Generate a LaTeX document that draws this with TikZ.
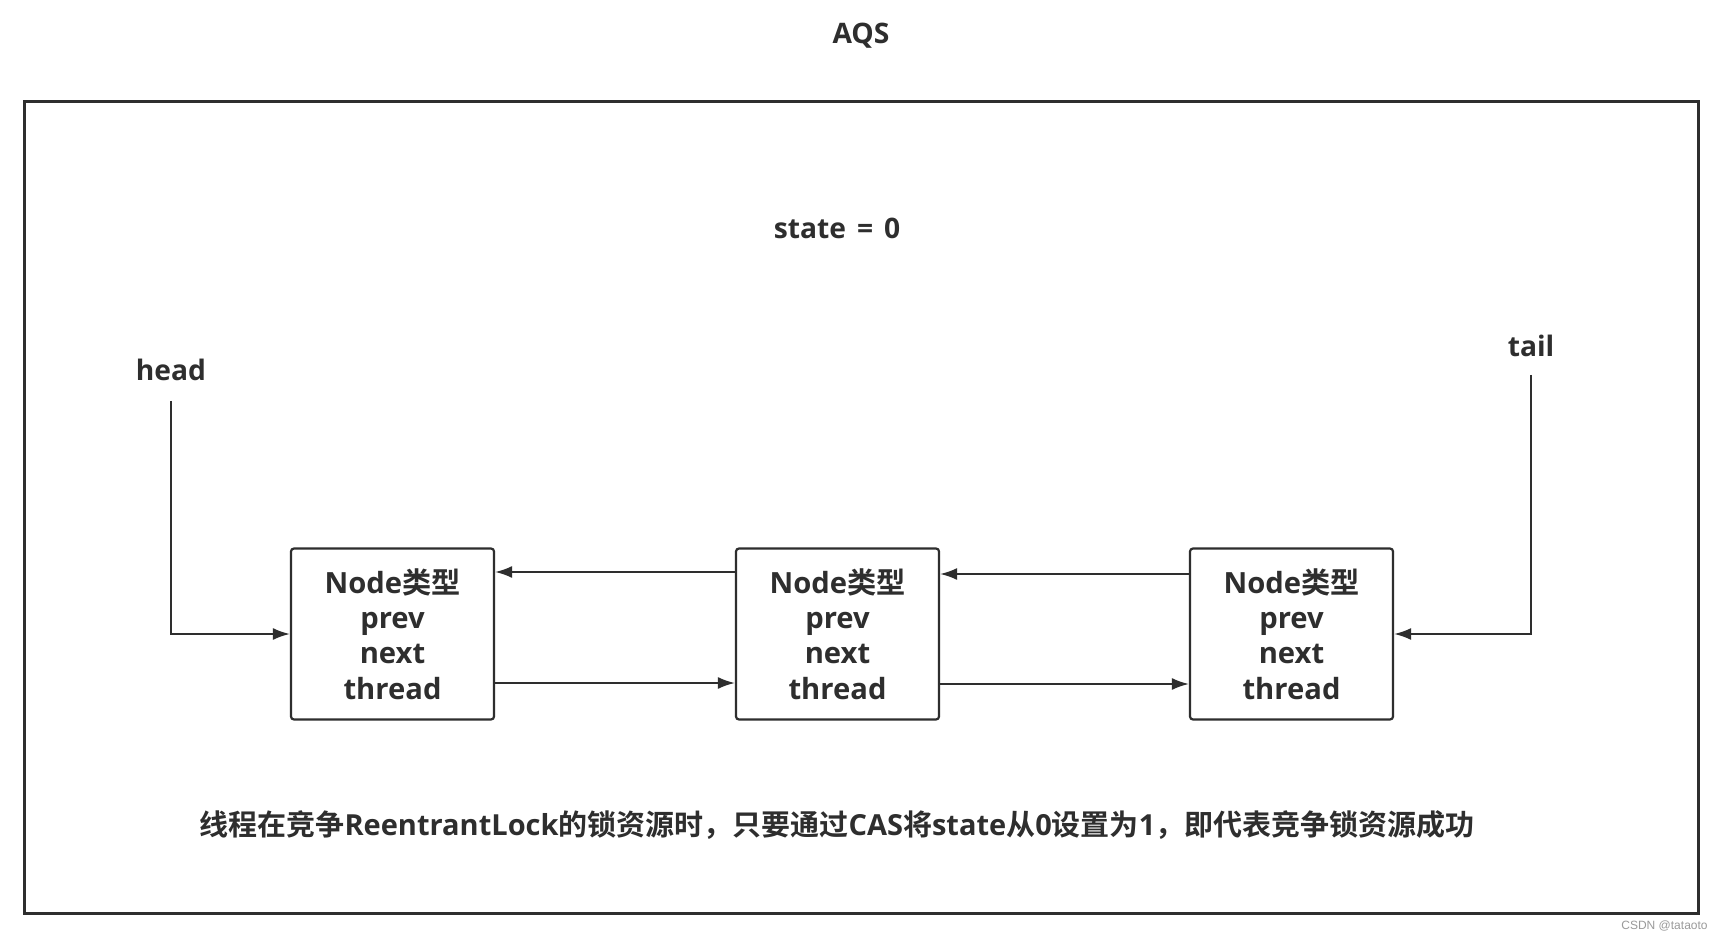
\documentclass[tikz,border=0pt]{standalone}
\usepackage{fontspec}
\setmainfont{Open Sans}[BoldFont={Open Sans Bold}]
\newfontfamily\cjk{Noto Sans CJK SC}[BoldFont={Noto Sans CJK SC Bold}]
\newfontfamily\wmfont{Liberation Sans}
\usetikzlibrary{arrows.meta,calc}
\definecolor{ink}{HTML}{2E2E2E}
\definecolor{wm}{HTML}{9A9A9A}
\tikzset{
  nodebox/.style={draw=ink, line width=1.1pt, rounded corners=1.5pt, minimum width=101.5pt, minimum height=85.5pt, align=center, inner sep=0pt, font=\fontsize{14.6pt}{17.6pt}\selectfont\bfseries, text=ink},
  lbl/.style={font=\fontsize{14.1pt}{16pt}\selectfont\bfseries, text=ink, inner sep=0pt},
  arr/.style={draw=ink, line width=0.95pt, -{Latex[length=8.5pt,width=6pt]}},
}
\begin{document}
\begin{tikzpicture}[x=0.5pt,y=-0.5pt]
\useasboundingbox (0,0) rectangle (1722,940);
\fill[white] (0,0) rectangle (1722,940);
\draw[ink, line width=1.5pt] (24,102) rectangle (1698,913);
\node[lbl] (aqs) at (861,36) {AQS};
\node[lbl] (state) at (837,228) {state\hspace{5.5pt}=\hspace{5.5pt}0};
\node[lbl] (head) at (171,370) {head};
\node[lbl] (tail) at (1531,346) {tail};
\node[nodebox] (box1) at (392.5,634) {Node{\cjk 类型}\\prev\\next\\thread};
\node[nodebox] (box2) at (837.5,634) {Node{\cjk 类型}\\prev\\next\\thread};
\node[nodebox] (box3) at (1291.5,634) {Node{\cjk 类型}\\prev\\next\\thread};
\coordinate (hs) at (171,401);
\coordinate (ts) at (1531,375);
\draw[arr] (hs) |- (box1.west);
\draw[arr] (ts) |- (box3.east);
\draw[arr] (box2.west |- 0,572) -- (box1.east |- 0,572);
\draw[arr] (box1.east |- 0,683) -- (box2.west |- 0,683);
\draw[arr] (box3.west |- 0,574) -- (box2.east |- 0,574);
\draw[arr] (box2.east |- 0,684) -- (box3.west |- 0,684);
\node[lbl, font=\fontsize{14.5pt}{16pt}\selectfont\bfseries] (note) at (837,825) {{\cjk 线程在竞争}ReentrantLock{\cjk 的锁资源时，只要通过}CAS{\cjk 将}state{\cjk 从}0{\cjk 设置为}1{\cjk ，即代表竞争锁资源成功}};
\node[font=\wmfont\fontsize{6pt}{7pt}\selectfont, text=wm, anchor=east, inner sep=0pt] (mark) at (1708,926) {CSDN @tataoto};
\end{tikzpicture}
\end{document}
